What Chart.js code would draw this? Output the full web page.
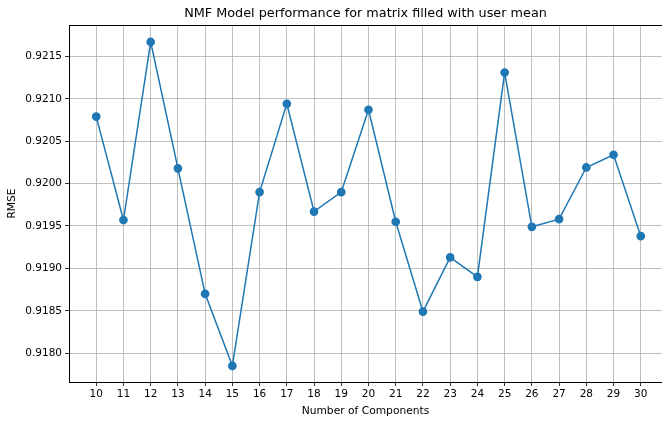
<!DOCTYPE html>
<html>
<head>
<meta charset="utf-8">
<script src="https://cdn.jsdelivr.net/npm/chart.js@4/dist/chart.umd.min.js"></script>
<style>
  html, body { margin: 0; padding: 0; background: #fff; }
  #wrap { width: 662px; height: 422px; }
</style>
</head>
<body>
<div id="wrap"><canvas id="myChart" width="662" height="422"></canvas></div>
<script>
// numero de componentes (eje x)
const componentes = [10, 11, 12, 13, 14, 15, 16, 17, 18, 19, 20, 21, 22, 23, 24, 25, 26, 27, 28, 29, 30]
// RMSE
const rmse = [0.92079, 0.91957, 0.92167, 0.92018, 0.91870, 0.91785, 0.91990, 0.92094, 0.91967, 0.91990,
    0.92087, 0.91955, 0.91849, 0.91913, 0.91890, 0.92131, 0.91949, 0.91958, 0.92019, 0.92034, 0.91938]
// etiquetas de los ejes
const xTicks = componentes
const yTicks = [0.9180, 0.9185, 0.9190, 0.9195, 0.9200, 0.9205, 0.9210, 0.9215]

const azul = '#1f77b4'
const gris = '#b0b0b0'
const fuente = 'DejaVu Sans'

//se arma la lista de puntos
const puntos = componentes.map(function (c, i) {
    return { x: c, y: rmse[i] };
});

const ctx = document.getElementById('myChart').getContext('2d')
let chart = new Chart(ctx, {
    type: 'line',
    data: {
        datasets: [{
            label: 'RMSE',
            data: puntos,
            xAxisID: 'x',
            borderColor: azul,
            backgroundColor: azul,
            borderWidth: 1.5,
            pointStyle: 'circle',
            pointRadius: 3.6,
            pointHoverRadius: 3.6,
            tension: 0
        }]
    },
    options: {
        responsive: false,
        animation: false,
        //sin autoPadding para que el area llegue al borde derecho
        layout: { padding: 0, autoPadding: false },
        plugins: {
            legend: { display: false },
            tooltip: { enabled: false },
            title: { display: false }
        },
        scales: {
            x: {
                type: 'linear',
                min: 9,
                max: 30.78,
                afterBuildTicks: function (s) { s.ticks = xTicks.map(v => ({ value: v })) },
                afterFit: function (s) { s.height = 40; s.paddingRight = 0; s.paddingLeft = 0 },
                ticks: {
                    color: '#000',
                    font: { family: fuente, size: 10.5 },
                    padding: 2,
                    maxRotation: 0,
                    autoSkip: false
                },
                grid: { color: gris, lineWidth: 0.8, tickLength: 4, tickColor: '#000' },
                border: { color: '#000', width: 1 },
                title: {
                    display: true,
                    text: 'Number of Components',
                    color: '#000',
                    font: { family: fuente, size: 10.7 },
                    padding: { top: 0, bottom: 4 }
                }
            },
            //eje de arriba solo para el titulo y la linea del marco
            x2: {
                type: 'linear',
                position: 'top',
                min: 9,
                max: 30.78,
                afterFit: function (s) { s.height = 25; s.paddingRight = 0; s.paddingLeft = 0 },
                ticks: { display: false },
                grid: { display: false, drawTicks: false },
                border: { color: '#000', width: 1 },
                title: {
                    display: true,
                    text: 'NMF Model performance for matrix filled with user mean',
                    color: '#000',
                    font: { family: fuente, size: 12.8 },
                    padding: { top: 6, bottom: 0 }
                }
            },
            y: {
                type: 'linear',
                min: 0.91766,
                max: 0.92187,
                afterBuildTicks: function (s) { s.ticks = yTicks.map(v => ({ value: v })) },
                afterFit: function (s) { s.width = 69 },
                ticks: {
                    color: '#000',
                    font: { family: fuente, size: 10.5 },
                    padding: 3,
                    callback: v => v.toFixed(4)
                },
                grid: { color: gris, lineWidth: 0.8, tickLength: 4, tickColor: '#000' },
                border: { color: '#000', width: 1 },
                title: {
                    display: true,
                    text: 'RMSE',
                    color: '#000',
                    font: { family: fuente, size: 10.7 },
                    padding: { top: 6, bottom: 0 }
                }
            }
        }
    }
});
</script>
</body>
</html>
